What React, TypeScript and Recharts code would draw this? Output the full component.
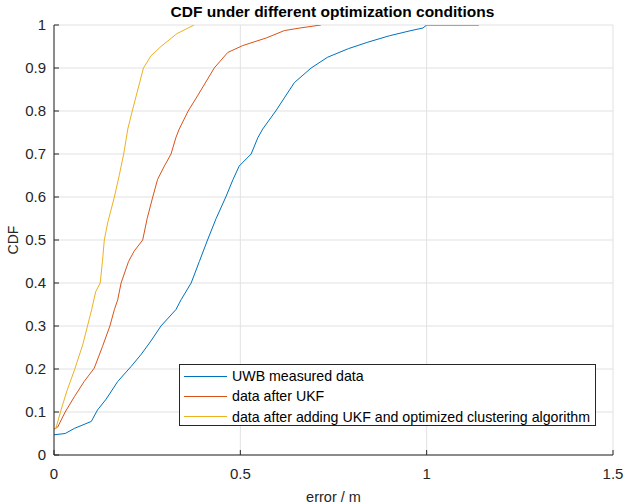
import React from 'react';
import { LineChart, Line, XAxis, YAxis, CartesianGrid } from 'recharts';

const uwbX = [0, 0.03, 0.055, 0.1, 0.117, 0.14, 0.171, 0.207, 0.233, 0.26, 0.287, 0.327, 0.341, 0.368, 0.39, 0.412, 0.435, 0.461, 0.48, 0.497, 0.529, 0.547, 0.56, 0.595, 0.645, 0.69, 0.734, 0.79, 0.842, 0.9, 0.958, 0.99, 1.0, 1.14];
const uwbY = [0.047, 0.05, 0.062, 0.078, 0.105, 0.13, 0.171, 0.206, 0.233, 0.265, 0.3, 0.338, 0.361, 0.4, 0.45, 0.5, 0.55, 0.6, 0.64, 0.672, 0.7, 0.738, 0.758, 0.8, 0.866, 0.9, 0.925, 0.945, 0.96, 0.975, 0.987, 0.993, 1.0, 1.0];

const ukfX = [0, 0.01, 0.03, 0.055, 0.081, 0.108, 0.13, 0.15, 0.162, 0.171, 0.18, 0.2, 0.215, 0.238, 0.25, 0.265, 0.278, 0.295, 0.314, 0.327, 0.336, 0.36, 0.385, 0.43, 0.466, 0.506, 0.57, 0.618, 0.66, 0.716];
const ukfY = [0.06, 0.065, 0.1, 0.136, 0.171, 0.202, 0.252, 0.3, 0.338, 0.361, 0.4, 0.45, 0.474, 0.5, 0.55, 0.6, 0.641, 0.67, 0.7, 0.738, 0.758, 0.8, 0.835, 0.9, 0.936, 0.952, 0.97, 0.987, 0.993, 1.0];

const optX = [0, 0.005, 0.019, 0.035, 0.055, 0.077, 0.101, 0.112, 0.124, 0.13, 0.135, 0.144, 0.162, 0.175, 0.187, 0.198, 0.21, 0.24, 0.26, 0.287, 0.33, 0.376];
const optY = [0.06, 0.062, 0.105, 0.15, 0.198, 0.256, 0.338, 0.38, 0.4, 0.45, 0.5, 0.54, 0.6, 0.65, 0.7, 0.758, 0.8, 0.9, 0.928, 0.95, 0.98, 1.0];

const seriesNames = ['UWB measured data', 'data after UKF', 'data after adding UKF and optimized clustering algorithm'];
const seriesColors = ['#0072BD', '#D95319', '#EDB120'];

const xTicks = [0, 0.5, 1, 1.5];
const xTickLabels = ['0', '0.5', '1', '1.5'];
const yTicks = [0, 0.1, 0.2, 0.3, 0.4, 0.5, 0.6, 0.7, 0.8, 0.9, 1];
const yTickLabels = ['0', '0.1', '0.2', '0.3', '0.4', '0.5', '0.6', '0.7', '0.8', '0.9', '1'];

const toPoints = (xs: number[], ys: number[]) => xs.map((x, i) => ({ x, y: ys[i] }));
const seriesData = [toPoints(uwbX, uwbY), toPoints(ukfX, ukfY), toPoints(optX, optY)];

const AX = '#262626';
const FONT = '"Liberation Sans", Arial, Helvetica, sans-serif';

export default function App() {
  return (
    <div style={{ position: 'fixed', left: 0, top: 0, width: 628, height: 504, background: '#fff', fontFamily: FONT }}>
      <div style={{ position: 'absolute', left: 0, top: 3, width: 665, textAlign: 'center', fontWeight: 'bold', fontSize: 15.5, color: '#000', lineHeight: '18px' }}>
        CDF under different optimization conditions
      </div>
      <LineChart width={628} height={504} margin={{ top: 25, right: 15, bottom: 0, left: 0 }} style={{ fontFamily: FONT }}>
        <CartesianGrid xAxisId="b" yAxisId="l" stroke="#e1e1e1" strokeWidth={1} />
        <XAxis
          xAxisId="b"
          type="number"
          dataKey="x"
          domain={[0, 1.5]}
          ticks={xTicks}
          tickFormatter={(v: number) => xTickLabels[xTicks.indexOf(v)] ?? String(v)}
          height={49}
          tickSize={-5}
          tickMargin={18}
          stroke={AX}
          allowDataOverflow
          tick={{ fill: AX, fontSize: 15 }}
          label={{ value: 'error / m', position: 'insideBottom', offset: 2, fill: AX, fontSize: 14.5 }}
        />
        <XAxis
          xAxisId="t"
          orientation="top"
          type="number"
          domain={[0, 1.5]}
          ticks={xTicks}
          height={0}
          tickSize={-5}
          tick={false}
          stroke={AX}
        />
        <YAxis
          yAxisId="l"
          type="number"
          domain={[0, 1]}
          ticks={yTicks}
          tickFormatter={(v: number) => yTickLabels[yTicks.indexOf(v)] ?? String(v)}
          width={54}
          tickSize={-5}
          tickMargin={13}
          stroke={AX}
          allowDataOverflow
          tick={{ fill: AX, fontSize: 15 }}
          label={{ value: 'CDF', angle: -90, position: 'insideLeft', offset: 13, fill: AX, fontSize: 14, style: { textAnchor: 'middle' } }}
        />
        <YAxis
          yAxisId="r"
          orientation="right"
          type="number"
          domain={[0, 1]}
          ticks={yTicks}
          width={0}
          tickSize={-5}
          tick={false}
          stroke={AX}
        />
        {seriesData.map((d, i) => (
          <Line
            key={seriesNames[i]}
            xAxisId="b"
            yAxisId="l"
            data={d}
            dataKey="y"
            name={seriesNames[i]}
            type="linear"
            stroke={seriesColors[i]}
            strokeWidth={1}
            dot={false}
            activeDot={false}
            isAnimationActive={false}
          />
        ))}
      </LineChart>
      <div style={{ position: 'absolute', left: 179, top: 364, width: 417, height: 62, border: '1px solid #262626', background: '#fff', boxSizing: 'border-box' }}>
        {seriesNames.map((n, i) => (
          <div key={n} style={{ position: 'absolute', left: 4, top: 2 + i * 20.3, height: 18, display: 'flex', alignItems: 'center' }}>
            <div style={{ width: 43, height: 0, borderTop: `1px solid ${seriesColors[i]}` }} />
            <span style={{ marginLeft: 5, fontSize: 14.2, color: '#000', whiteSpace: 'nowrap' }}>{n}</span>
          </div>
        ))}
      </div>
    </div>
  );
}
